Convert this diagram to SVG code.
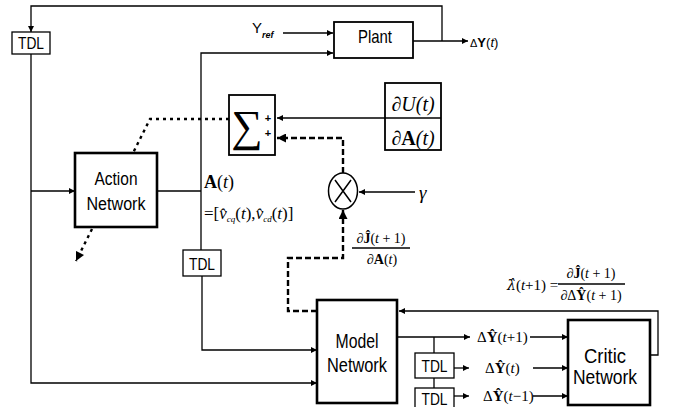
<svg xmlns="http://www.w3.org/2000/svg" width="674" height="407" viewBox="0 0 674 407">
<defs>
<style>
.box{fill:#fff;stroke:#000}
.thick{stroke-width:2.6}
.med{stroke-width:1.8}
.thin{stroke-width:1.3}
.ln{fill:none;stroke:#000;stroke-width:1.3}
.dash{fill:none;stroke:#000;stroke-width:2.4;stroke-dasharray:6 3}
.dot{fill:none;stroke:#000;stroke-width:2.4;stroke-dasharray:3 4}
.dotin{fill:none;stroke:#000;stroke-width:1.6;stroke-dasharray:2 2}
.sans{font-family:"Liberation Sans",Arial,sans-serif;fill:#000}
.ser{font-family:"Liberation Serif","Times New Roman",serif;fill:#000}
.it{font-style:italic}
.b{font-weight:bold}
</style>
<marker id="ah" viewBox="0 0 10 10" refX="10" refY="5" markerWidth="7" markerHeight="6" markerUnits="userSpaceOnUse" orient="auto"><path d="M0,0 L10,5 L0,10 z" fill="#000"/></marker>
<marker id="ahb" viewBox="0 0 10 10" refX="10" refY="5" markerWidth="10" markerHeight="9" markerUnits="userSpaceOnUse" orient="auto"><path d="M0,0 L10,5 L0,10 z" fill="#000"/></marker>
</defs>
<rect width="674" height="407" fill="#fff"/>

<g id="connectors">
<path class="ln" d="M442,41 V6 H31 V32" marker-end="url(#ah)"/>
<path class="ln" d="M413,41 H468" marker-end="url(#ah)"/>
<path class="ln" d="M283,33 H333" marker-end="url(#ah)"/>
<path class="ln" d="M201,250 V53 H333" marker-end="url(#ah)"/>
<path class="ln" d="M157,191 H201"/>
<path class="ln" d="M202,276 V350 H317" marker-end="url(#ah)"/>
<path class="ln" d="M31,54 V383 H317" marker-end="url(#ah)"/>
<path class="ln" d="M31,191 H75" marker-end="url(#ah)"/>
<path class="ln" d="M385,118 H277" marker-end="url(#ah)"/>
<path class="ln" d="M415,192 H359" marker-end="url(#ah)"/>
<path class="dash" d="M343,173 V138 H277" marker-end="url(#ahb)"/>
<path class="dash" d="M317,311 H288 V258 H343 V210" marker-end="url(#ahb)"/>
<path class="dotin" d="M397,311 H318"/>
<path class="ln" d="M650,355 H658 V311 H399" marker-end="url(#ah)"/>
<path class="ln" d="M397,337 H470" marker-end="url(#ah)"/>
<path class="ln" d="M530,337 H568" marker-end="url(#ah)"/>
<path class="ln" d="M434,337 V353 M434,378 V388"/>
<path class="ln" d="M454,368 H469" marker-end="url(#ah)"/>
<path class="ln" d="M533,368 H568" marker-end="url(#ah)"/>
<path class="ln" d="M454,396 H469" marker-end="url(#ah)"/>
<path class="ln" d="M533,396 H568" marker-end="url(#ah)"/>
<path class="dot" d="M229,119 H150 L133,153"/>
<path class="dot" d="M92,229 L76,261" marker-end="url(#ahb)"/>
</g>

<g id="tdl-top"><rect class="box thin" x="12" y="32" width="38" height="22"/><text class="sans" x="31" y="49" font-size="16" text-anchor="middle" textLength="26" lengthAdjust="spacingAndGlyphs">TDL</text></g>

<g id="plant"><rect class="box med" x="334" y="22" width="79" height="36"/><text class="sans" x="375" y="43" font-size="19" text-anchor="middle" textLength="34" lengthAdjust="spacingAndGlyphs">Plant</text></g>

<g id="action-network"><rect class="box thick" x="75" y="153" width="82" height="74"/>
<text class="sans" x="116" y="185" font-size="18" text-anchor="middle" textLength="43" lengthAdjust="spacingAndGlyphs">Action</text>
<text class="sans" x="116" y="210" font-size="18" text-anchor="middle" textLength="59" lengthAdjust="spacingAndGlyphs">Network</text></g>

<g id="sum"><rect class="box med" x="229" y="95" width="46" height="60"/>
<text class="ser" x="247" y="141" font-size="44" text-anchor="middle">∑</text>
<text class="sans b" x="268" y="122" font-size="11" text-anchor="middle">+</text>
<text class="sans b" x="268" y="137" font-size="11" text-anchor="middle">+</text></g>

<g id="dU-dA"><rect class="box med" x="385" y="83" width="56" height="67"/>
<path class="ln" d="M385,118 H441"/>
<text class="ser it" x="413" y="111" font-size="20" text-anchor="middle">∂U(t)</text>
<text class="ser it" x="413" y="145" font-size="20" text-anchor="middle">∂<tspan class="b" font-style="normal">A</tspan>(t)</text></g>

<g id="multiplier"><ellipse cx="343" cy="191" rx="14.5" ry="18" fill="#fff" stroke="#000" stroke-width="1.5"/>
<path d="M335,180 L351,202 M351,180 L335,202" stroke="#000" stroke-width="1.5" fill="none"/></g>

<g id="tdl-mid"><rect class="box thin" x="183" y="250" width="38" height="26"/><text class="sans" x="202" y="270" font-size="16" text-anchor="middle" textLength="26" lengthAdjust="spacingAndGlyphs">TDL</text></g>

<g id="model-network"><rect class="box thick" x="317" y="300" width="80" height="103"/>
<text class="sans" x="357" y="348" font-size="20" text-anchor="middle" textLength="43" lengthAdjust="spacingAndGlyphs">Model</text>
<text class="sans" x="357" y="372" font-size="20" text-anchor="middle" textLength="60" lengthAdjust="spacingAndGlyphs">Network</text></g>

<g id="tdl-1"><rect class="box thin" x="415" y="353" width="39" height="25"/><text class="sans" x="434.5" y="372" font-size="16" text-anchor="middle" textLength="26" lengthAdjust="spacingAndGlyphs">TDL</text></g>
<g id="tdl-2"><rect class="box thin" x="415" y="388" width="39" height="22"/><text class="sans" x="434.5" y="405" font-size="16" text-anchor="middle" textLength="26" lengthAdjust="spacingAndGlyphs">TDL</text></g>

<g id="critic-network"><rect class="box thick" x="568" y="320" width="82" height="85"/>
<text class="sans" x="605" y="363" font-size="20" text-anchor="middle" textLength="42" lengthAdjust="spacingAndGlyphs">Critic</text>
<text class="sans" x="605" y="384" font-size="20" text-anchor="middle" textLength="64" lengthAdjust="spacingAndGlyphs">Network</text></g>

<g id="labels">
<text class="sans" x="252" y="33" font-size="15">Y<tspan class="it b" font-size="9" dy="5">ref</tspan></text>
<text class="sans" x="470" y="47" font-size="13"><tspan font-size="11">Δ</tspan><tspan class="b">Y</tspan>(<tspan class="it">t</tspan>)</text>
<text class="ser" x="204" y="188" font-size="18"><tspan class="b">A</tspan>(<tspan class="it">t</tspan>)</text>
<text class="ser" x="204" y="219" font-size="17">=[<tspan class="it">v̂</tspan><tspan class="it" font-size="9" dy="3">cq</tspan><tspan dy="-3">(</tspan><tspan class="it">t</tspan>),<tspan class="it">v̂</tspan><tspan class="it" font-size="9" dy="3">cd</tspan><tspan dy="-3">(</tspan><tspan class="it">t</tspan>)]</text>
<text class="ser it" x="419" y="199" font-size="19">γ</text>
<text class="ser" x="381" y="243" font-size="14" text-anchor="middle">∂<tspan class="b">Ĵ</tspan>(<tspan class="it">t</tspan> + 1)</text>
<path class="ln" d="M352,248 H410" stroke-width="1"/>
<text class="ser" x="382" y="264" font-size="14" text-anchor="middle">∂<tspan class="b">A</tspan>(<tspan class="it">t</tspan>)</text>
<text class="ser" x="507" y="290" font-size="15"><tspan class="it" font-family="'DejaVu Serif',serif" font-size="14">λ̂</tspan>(<tspan class="it">t</tspan>+1) =</text>
<text class="ser" x="591" y="278" font-size="14" text-anchor="middle">∂<tspan class="b">Ĵ</tspan>(<tspan class="it">t</tspan> + 1)</text>
<path class="ln" d="M558,284 H625" stroke-width="1"/>
<text class="ser" x="591" y="300" font-size="14" text-anchor="middle">∂Δ<tspan class="b">Ŷ</tspan>(<tspan class="it">t</tspan> + 1)</text>
<text class="ser" x="477" y="342" font-size="15">Δ<tspan class="b">Ŷ</tspan>(<tspan class="it">t</tspan>+1)</text>
<text class="ser" x="485" y="373" font-size="15">Δ<tspan class="b">Ŷ</tspan>(<tspan class="it">t</tspan>)</text>
<text class="ser" x="483" y="401" font-size="15">Δ<tspan class="b">Ŷ</tspan>(<tspan class="it">t</tspan>−1)</text>
</g>
</svg>
